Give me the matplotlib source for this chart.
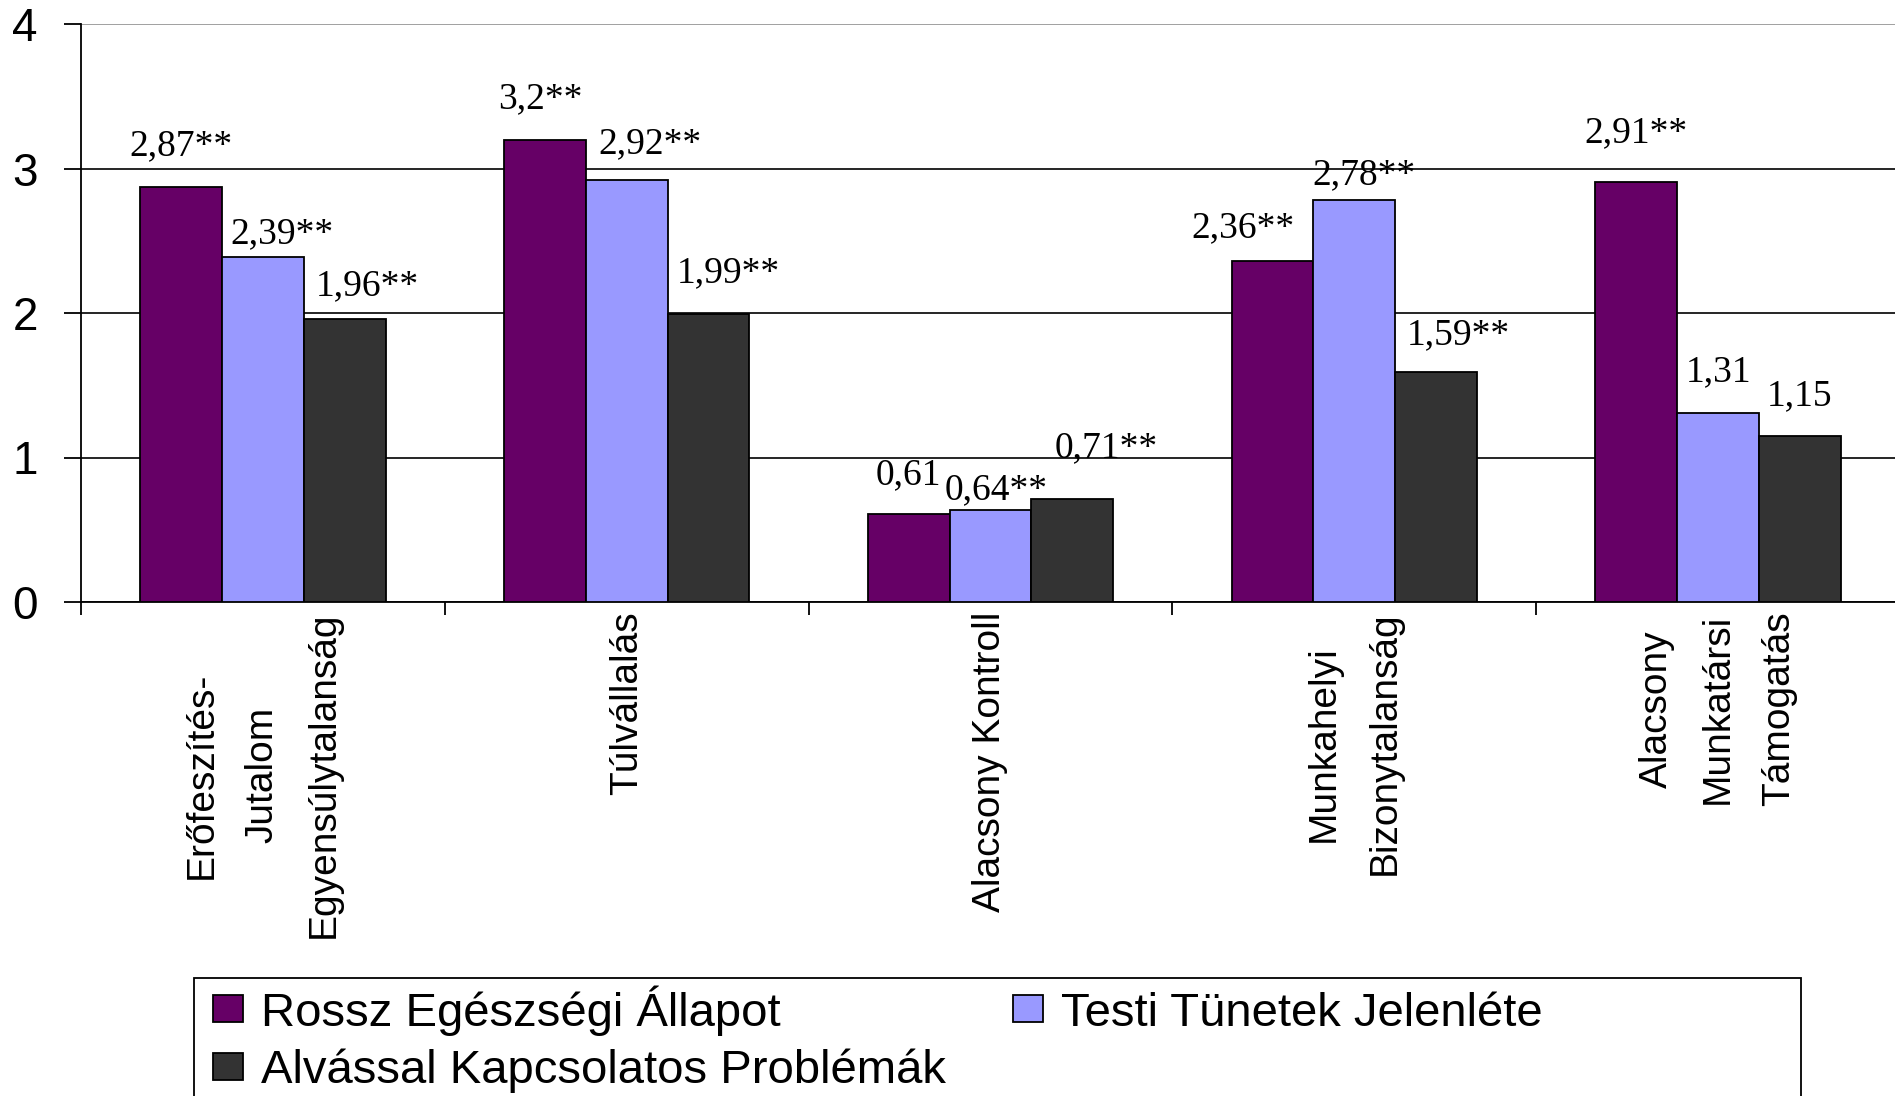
import numpy as np
import matplotlib.pyplot as plt
from matplotlib.patches import Rectangle

# data
categories = ['Erőfeszítés-\nJutalom\nEgyensúlytalanság', 'Túlvállalás', 'Alacsony Kontroll',
              'Munkahelyi\nBizonytalanság', 'Alacsony\nMunkatársi\nTámogatás']
series_names = ['Rossz Egészségi Állapot', 'Testi Tünetek Jelenléte',
                'Alvással Kapcsolatos Problémák']
rossz = [2.87, 3.2, 0.61, 2.36, 2.91]
testi = [2.39, 2.92, 0.64, 2.78, 1.31]
alvas = [1.96, 1.99, 0.71, 1.59, 1.15]
rossz_labels = ['2,87**', '3,2**', '0,61', '2,36**', '2,91**']
testi_labels = ['2,39**', '2,92**', '0,64**', '2,78**', '1,31']
alvas_labels = ['1,96**', '1,99**', '0,71**', '1,59**', '1,15']
yticks = [0, 1, 2, 3, 4]

colors = ['#660066', '#9999FF', '#333333']

# label nudges (points) relative to the bar top, hand placed like in the original
nudge_rossz = [(0, 30), (-3, 29), (0, 28), (-21, 24), (0, 35)]
nudge_testi = [(14, 16), (17, 26), (4, 14), (7, 18), (0, 29)]
nudge_alvas = [(16, 24), (14, 30), (24, 37), (16, 27), (0, 29)]

plt.rcParams['font.family'] = ['Liberation Sans', 'DejaVu Sans']

fig = plt.figure(figsize=(18.95, 10.96), dpi=100)
ax = fig.add_axes([81 / 1895, 1 - 602 / 1096, (1900 - 81) / 1895, (602 - 24) / 1096])

x = np.arange(len(categories))
w = 0.225
allseries = [rossz, testi, alvas]
alllabels = [rossz_labels, testi_labels, alvas_labels]
allnudges = [nudge_rossz, nudge_testi, nudge_alvas]

bars = []
for i, (vals, name) in enumerate(zip(allseries, series_names)):
    xs = x + (i - 1) * w
    b = ax.bar(xs, vals, w, color=colors[i], edgecolor='black', linewidth=1.3,
               label=name, zorder=3)
    bars.append(b)
    for xi, v, txt, (dx, dy) in zip(xs, vals, alllabels[i], allnudges[i]):
        ax.annotate(txt, xy=(xi, v), xytext=(dx, dy), textcoords='offset points',
                    ha='center', va='center', fontsize=27,
                    family='Liberation Serif', zorder=4)

ax.set_xlim(-0.5, len(categories) - 0.5)
ax.set_ylim(0, 4)
ax.set_yticks(yticks)
ax.yaxis.grid(True, color='black', linewidth=1.2, zorder=0)
ax.set_axisbelow(True)
# the top gridline is drawn lighter in the original
ax.get_ygridlines()[-1].set_color('#909090')

ax.spines['top'].set_visible(False)
ax.spines['right'].set_visible(False)
ax.spines['left'].set_linewidth(1.3)
ax.spines['bottom'].set_linewidth(1.3)

ax.tick_params(axis='y', direction='out', length=12, width=1.3, pad=19, labelsize=33)
ax.set_xticks(x)
ax.set_xticklabels(categories, rotation=90, fontsize=28, linespacing=1.9)
ax.tick_params(axis='x', length=0, pad=7)
ax.set_xticks(np.arange(len(categories) + 1) - 0.5, minor=True)
ax.tick_params(axis='x', which='minor', direction='out', length=9, width=1.3)

# legend box: wider than the entries and cut by the bottom of the image
fig.patches.append(Rectangle((194 / 1895, -0.05), (1801 - 194) / 1895, 0.05 + 1 - 978 / 1096,
                             transform=fig.transFigure, fill=False,
                             edgecolor='black', linewidth=1.3))
# column-wise fill: Rossz, Alvás in column 1, Testi in column 2
order = [0, 2, 1]
fig.legend([bars[k] for k in order], [series_names[k] for k in order],
           loc='upper left', bbox_to_anchor=(213 / 1895, 1 - 985 / 1096), ncol=2,
           frameon=False, fontsize=34, borderpad=0, handlelength=0.64,
           handleheight=0.51, handletextpad=0.38, columnspacing=1.42,
           labelspacing=0.28, borderaxespad=0)

fig.savefig('out.png', dpi=100)
